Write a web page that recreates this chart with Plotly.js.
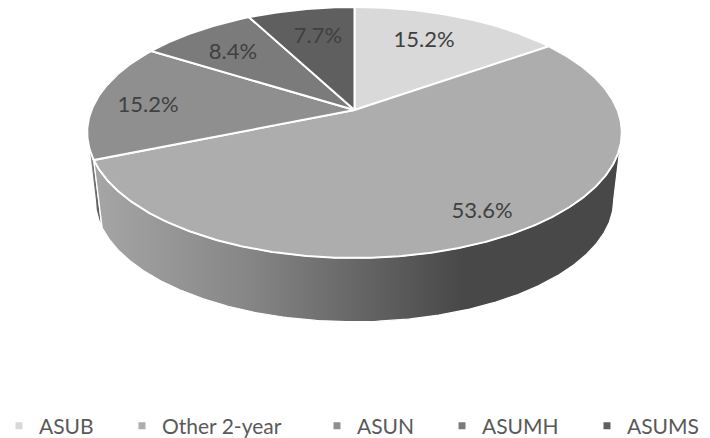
<!DOCTYPE html>
<html>
<head>
<meta charset="utf-8">
<script src="https://cdn.plot.ly/plotly-3.0.1.min.js"></script>
<style>html,body{margin:0;padding:0;background:#fff}#chart{width:710px;height:438px}</style>
</head>
<body>
<div id="chart"></div>
<script>
// Data
var categories = ["ASUB", "Other 2-year", "ASUN", "ASUMH", "ASUMS"];
var shares = [15.2, 53.6, 15.2, 8.4, 7.7];
var faceColors = ["#d9d9d9", "#adadad", "#8f8f8f", "#7b7b7b", "#5f5f5f"];

// Presentation: where labels sit, where legend texts begin
var labelX = [424, 482, 148, 233, 318];
var labelY = [41, 212, 106, 53, 37];
var legendTextX = [39, 162, 357, 482, 627];

// Perspective disc projection
var W = 710, H = 438, CX = 354.5, K = 0.179;
var TOP = {a: 263, b: 121.5, y0: 110};
var LOW = {a: 255, b: 118, y0: 178};
function project(disc, deg, r) {
  var t = deg * Math.PI / 180, c = Math.cos(t) * r, s = Math.sin(t) * r, d = 1 + K * c;
  return [CX + disc.a * s / d, disc.y0 - disc.b * c / d];
}
function arc(disc, a0, a1) {
  var n = Math.max(2, Math.ceil(Math.abs(a1 - a0) * 2)), pts = [];
  for (var i = 0; i <= n; i++) pts.push(project(disc, a0 + (a1 - a0) * i / n, 1));
  return pts;
}
function xs(p) { return p.map(function (q) { return q[0]; }); }
function ys(p) { return p.map(function (q) { return q[1]; }); }

var total = shares.reduce(function (a, b) { return a + b; }, 0);
var edges = [0];
shares.forEach(function (v) { edges.push(edges[edges.length - 1] + v / total * 360); });

var TANGENT_R = 180 - Math.acos(K) * 180 / Math.PI;   // right silhouette
var TANGENT_L = 360 - TANGENT_R;                       // left silhouette

function wall(a0, a1) { return arc(TOP, a0, a1).concat(arc(LOW, a1, a0)); }

var traces = [];
var sliver = wall(edges[2], TANGENT_L); sliver.push(sliver[0]);
traces.push({type: "scatter", mode: "lines", x: xs(sliver), y: ys(sliver), fill: "toself",
  fillgradient: {type: "horizontal", colorscale: [[0, "#9a9a9a"], [1, "#4c4c4c"]]},
  line: {color: "#ffffff", width: 1.2}, showlegend: false, hoverinfo: "skip"});
var main = wall(TANGENT_R, edges[2]); main.push(main[0]);
traces.push({type: "scatter", mode: "lines", x: xs(main), y: ys(main), fill: "toself",
  fillgradient: {type: "horizontal", colorscale: [[0, "#a6a6a6"], [0.3, "#858585"], [0.52, "#636363"], [0.7, "#484848"], [1, "#484848"]]},
  line: {color: "#ffffff", width: 1.2}, showlegend: false, hoverinfo: "skip"});

categories.forEach(function (name, i) {
  var p = [project(TOP, 0, 0)].concat(arc(TOP, edges[i], edges[i + 1]));
  p.push(p[0]);
  traces.push({type: "scatter", mode: "lines", x: xs(p), y: ys(p), fill: "toself",
    fillcolor: faceColors[i], line: {color: "#ffffff", width: 2},
    showlegend: false, hoverinfo: "skip"});
});

traces.push({type: "scatter", mode: "text", x: labelX, y: labelY,
  text: shares.map(function (v) { return v.toFixed(1) + "%"; }),
  textposition: "middle center",
  textfont: {family: "Lato, 'Open Sans', sans-serif", size: 22, color: "#404040"},
  showlegend: false, hoverinfo: "skip"});

var layout = {
  width: W, height: H, margin: {l: 0, r: 0, t: 0, b: 0, autoexpand: false},
  paper_bgcolor: "#ffffff", plot_bgcolor: "#ffffff", showlegend: true, hovermode: false,
  xaxis: {range: [0, W], visible: false, fixedrange: true},
  yaxis: {range: [H, 0], visible: false, fixedrange: true}
};
categories.forEach(function (name, i) {
  var key = i === 0 ? "legend" : "legend" + (i + 1);
  traces.push({type: "scatter", mode: "markers", x: [null], y: [null], name: name,
    legend: key, showlegend: true,
    marker: {symbol: "square", size: 7, color: faceColors[i]}});
  layout[key] = {x: (legendTextX[i] - 40) / W, xanchor: "left", y: 1 - 426 / H, yanchor: "middle",
    bgcolor: "rgba(0,0,0,0)", borderwidth: 0,
    font: {family: "Lato, 'Open Sans', sans-serif", size: 21, color: "#595959"}};
});

Plotly.newPlot("chart", traces, layout, {displayModeBar: false, staticPlot: true});
</script>
</body>
</html>
